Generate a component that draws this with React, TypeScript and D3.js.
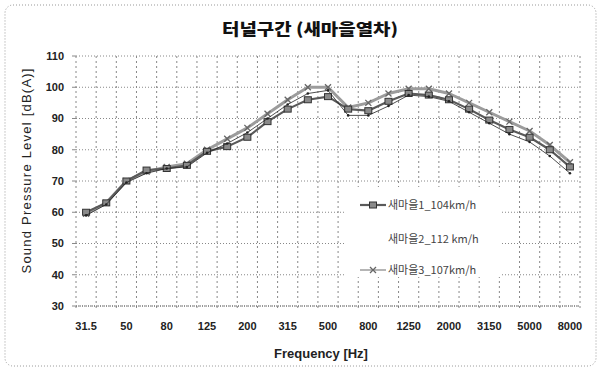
import React from "react";
import * as d3 from "d3";

// 1/3 octave bands
const bands = ["31.5", "40", "50", "63", "80", "100", "125", "160", "200", "250", "315", "400", "500",
    "630", "800", "1000", "1250", "1600", "2000", "2500", "3150", "4000", "5000", "6300", "8000"];
const tickBands = ["31.5", "50", "80", "125", "200", "315", "500", "800", "1250", "2000", "3150", "5000", "8000"];
const yTicks = [30, 40, 50, 60, 70, 80, 90, 100, 110];

const saemaul1 = [60, 63, 70, 73.5, 74, 75, 79.5, 81, 84, 89, 93, 96, 97, 93, 92.5, 95.5, 98, 97.5, 96, 93, 89.5, 86.5, 84, 80, 74.5];
const saemaul2 = [59, 62.5, 69.5, 72.5, 74, 74.5, 79, 82, 85.5, 90, 94.5, 98, 99, 91, 91, 94, 97.5, 97, 95.5, 92, 88.5, 85, 82.5, 78, 72.5];
const saemaul3 = [59.5, 63, 70, 73, 74.5, 75.5, 80, 83.5, 87, 91.5, 96, 100, 100, 93.5, 95, 98, 99.5, 99.5, 98, 95, 92, 89, 86, 81.5, 76];

const seriesNames = ["새마을1_104km/h", "새마을2_112 km/h", "새마을3_107km/h"];

const W = 601, H = 372;
const left = 76, right = 580, top = 56, bottom = 306;
const latin = "'Liberation Sans', Arial, sans-serif";
const korean = "'Noto Sans CJK KR', 'Liberation Sans', sans-serif";

const Square = ({ x, y }) => (
    <rect x={x - 3.5} y={y - 3} width={7} height={6} fill="#8a8a8a" stroke="#333" strokeWidth={1} />
);
const Cross = ({ x, y }) => (
    <path d={`M${x - 3},${y - 3}L${x + 3},${y + 3}M${x - 3},${y + 3}L${x + 3},${y - 3}`} stroke="#666" strokeWidth={1.3} />
);
const Dot = ({ x, y }) => <circle cx={x} cy={y} r={1.3} fill="#222" />;

const App = () => {
    const x = d3.scaleBand().domain(bands).range([left, right]).padding(0);
    const y = d3.scaleLinear().domain([30, 110]).range([bottom, top]);
    const cx = b => x(b) + x.bandwidth() / 2;
    const line = d3.line().x((d, i) => cx(bands[i])).y(d => y(d));

    const series = [
        { data: saemaul3, stroke: "#9c9c9c", width: 3, Marker: Cross },
        { data: saemaul1, stroke: "#5a5a5a", width: 2.2, Marker: Square },
        { data: saemaul2, stroke: "#222", width: 0.8, Marker: Dot },
    ];

    const boundaries = d3.range(bands.length + 1).map(k => left + k * x.step());

    return (
        <svg width={W} height={H} style={{ position: "absolute", left: 0, top: 0, background: "#fff" }}>
            <rect x={5} y={5} width={591} height={361} rx={8} fill="none" stroke="#999" strokeWidth={1} strokeDasharray="1,2" />
            <text x={310} y={35} textAnchor="middle" fontFamily={korean} fontWeight="900" fontSize={16} fill="#111"
                textLength={176} lengthAdjust="spacingAndGlyphs">터널구간 (새마을열차)</text>

            {/* grid */}
            {yTicks.map(t => (
                <g key={"y" + t}>
                    <line x1={left} x2={right} y1={y(t)} y2={y(t)} stroke="#888" strokeWidth={1} strokeDasharray="1,2" />
                    <line x1={left - 4} x2={left} y1={y(t)} y2={y(t)} stroke="#888" />
                    <text x={64} y={y(t)} dy="0.35em" textAnchor="end" fontFamily={latin} fontWeight="bold" fontSize={11} fill="#222">{t}</text>
                </g>
            ))}
            {boundaries.map((b, k) => (
                <line key={"v" + k} x1={b} x2={b} y1={top} y2={bottom + 4} stroke="#888" strokeWidth={1} strokeDasharray="2,3" />
            ))}
            <line x1={left} x2={right} y1={bottom} y2={bottom} stroke="#666" strokeWidth={1} strokeDasharray="1,1" />

            {tickBands.map(b => (
                <text key={"t" + b} x={cx(b)} y={330} textAnchor="middle" fontFamily={latin} fontWeight="bold" fontSize={11} fill="#222">{b}</text>
            ))}

            {/* series */}
            {series.map((s, i) => (
                <g key={"s" + i}>
                    <path d={line(s.data)} fill="none" stroke={s.stroke} strokeWidth={s.width} strokeLinejoin="round" />
                    {s.data.map((v, j) => <s.Marker key={j} x={cx(bands[j])} y={y(v)} />)}
                </g>
            ))}

            {/* legend */}
            <rect x={346} y={187} width={156} height={90} fill="#fff" />
            <line x1={360} x2={386} y1={205} y2={205} stroke="#5a5a5a" strokeWidth={2.2} />
            <Square x={373} y={205} />
            <text x={388} y={205} dy="0.35em" fontFamily={korean} fontSize={11} fill="#444">{seriesNames[0]}</text>
            <text x={388} y={239} dy="0.35em" fontFamily={korean} fontSize={11} fill="#444">{seriesNames[1]}</text>
            <line x1={360} x2={386} y1={270} y2={270} stroke="#9c9c9c" strokeWidth={1.5} />
            <Cross x={373} y={270} />
            <text x={388} y={270} dy="0.35em" fontFamily={korean} fontSize={11} fill="#444">{seriesNames[2]}</text>

            {/* axis titles */}
            <text transform="translate(31,171) rotate(-90)" textAnchor="middle" fontFamily={latin} fontSize={13} fill="#222"
                textLength={205} lengthAdjust="spacing">Sound Pressure Level  [dB(A)]</text>
            <text x={321} y={358} textAnchor="middle" fontFamily={latin} fontWeight="bold" fontSize={13} fill="#222">Frequency [Hz]</text>
        </svg>
    );
};

export default App;
